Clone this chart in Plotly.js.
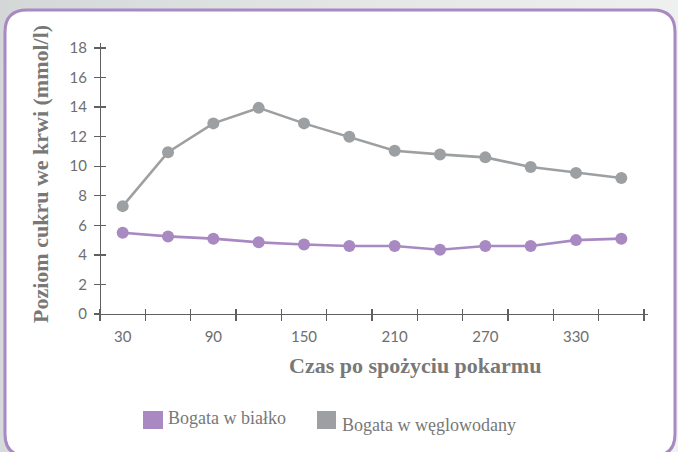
<!DOCTYPE html>
<html>
<head>
<meta charset="utf-8">
<script src="https://cdn.plot.ly/plotly-3.0.1.min.js"></script>
<style>
html,body{margin:0;padding:0;}
#chart{width:678px;height:452px;background:linear-gradient(100deg,#d3d7d7 0%,#e4e6e6 45%,#f1f2f2 100%);}
</style>
</head>
<body>
<div id="chart"></div>
<script>
// ---- data ----
const times = [30, 60, 90, 120, 150, 180, 210, 240, 270, 300, 330, 360];
const protein = [5.5, 5.25, 5.1, 4.85, 4.7, 4.6, 4.6, 4.35, 4.6, 4.6, 5.0, 5.1];
const carbs = [7.3, 10.95, 12.9, 13.95, 12.9, 12.0, 11.05, 10.8, 10.6, 9.95, 9.55, 9.2];
const seriesNames = ['Bogata w białko', 'Bogata w węglowodany'];
const xTickVals = [30, 90, 150, 210, 270, 330];
const xTickText = ['30', '90', '150', '210', '270', '330'];
const xBoundaries = [15, 45, 75, 105, 135, 165, 195, 225, 255, 285, 315, 345, 375];
const yTickVals = [0, 2, 4, 6, 8, 10, 12, 14, 16, 18];
const yTickText = ['0', '2', '4', '6', '8', '10', '12', '14', '16', '18'];
const xTitle = 'Czas po spożyciu pokarmu';
const yTitle = 'Poziom cukru we krwi (mmol/l)';

// ---- style ----
const W = 678, H = 452;
const px = x => x / W;
const py = y => (H - y) / H;
const purple = '#a889c2';
const gray = '#9da0a2';
const axisCol = '#606060';
const textCol = '#787878';
const tickFont = {family: 'Lato, "Open Sans", sans-serif', size: 15, color: '#6e6e6e'};
const serif = '"Liberation Serif", "DejaVu Serif", serif';

const xDom = [px(97), px(648)];
const yDom = [py(314), py(43)];
const xRange = [13.0, 377.65];
const yRange = [0, 18.34];

const traces = [
  {x: times, y: protein, name: seriesNames[0], type: 'scatter', mode: 'lines+markers',
   line: {color: purple, width: 2.6}, marker: {color: purple, size: 12}, cliponaxis: false},
  {x: times, y: carbs, name: seriesNames[1], type: 'scatter', mode: 'lines+markers',
   line: {color: gray, width: 2.6}, marker: {color: gray, size: 12}, cliponaxis: false},
  // empty helper trace so the overlaid tick-only axes are created (draws nothing)
  {x: [], y: [], xaxis: 'x2', yaxis: 'y2', type: 'scatter', mode: 'markers', hoverinfo: 'skip'}
];

function rr(x0, y0, x1, y1, r) {
  const X = v => px(v).toFixed(5), Y = v => py(v).toFixed(5);
  return `M${X(x0 + r)},${Y(y0)} L${X(x1 - r)},${Y(y0)} Q${X(x1)},${Y(y0)} ${X(x1)},${Y(y0 + r)} ` +
    `L${X(x1)},${Y(y1 - r)} Q${X(x1)},${Y(y1)} ${X(x1 - r)},${Y(y1)} L${X(x0 + r)},${Y(y1)} ` +
    `Q${X(x0)},${Y(y1)} ${X(x0)},${Y(y1 - r)} L${X(x0)},${Y(y0 + r)} Q${X(x0)},${Y(y0)} ${X(x0 + r)},${Y(y0)} Z`;
}

const layout = {
  width: W, height: H,
  margin: {l: 0, r: 0, t: 0, b: 0},
  paper_bgcolor: 'rgba(0,0,0,0)',
  plot_bgcolor: 'rgba(0,0,0,0)',
  showlegend: false,
  xaxis: {domain: xDom, range: xRange, anchor: 'y', tickmode: 'array', tickvals: xTickVals, ticktext: xTickText,
    ticks: '', showgrid: false, zeroline: false, showline: true, linecolor: axisCol, linewidth: 1.3,
    tickfont: tickFont, ticklabelstandoff: 9,
    minor: {tickmode: 'array', tickvals: xBoundaries, ticks: 'outside', ticklen: 6, tickwidth: 1.3, tickcolor: axisCol, showgrid: false}},
  xaxis2: {domain: xDom, range: xRange, anchor: 'y2', overlaying: 'x', tickmode: 'array', tickvals: xBoundaries,
    ticks: 'inside', ticklen: 5, tickwidth: 1.3, tickcolor: axisCol, showticklabels: false,
    showgrid: false, zeroline: false, showline: false},
  yaxis: {domain: yDom, range: yRange, anchor: 'free', position: px(100), tickmode: 'array',
    tickvals: yTickVals, ticktext: yTickText, ticks: 'outside', ticklen: 6, tickwidth: 1.3, tickcolor: axisCol,
    showgrid: false, zeroline: false, showline: true, linecolor: axisCol, linewidth: 1.3, tickfont: tickFont,
    ticklabelstandoff: 4},
  yaxis2: {domain: yDom, range: yRange, anchor: 'free', position: px(100), overlaying: 'y', tickmode: 'array',
    tickvals: yTickVals, ticks: 'inside', ticklen: 5, tickwidth: 1.3, tickcolor: axisCol, showticklabels: false,
    showgrid: false, zeroline: false, showline: false},
  shapes: [
    {type: 'path', xref: 'paper', yref: 'paper', layer: 'below', path: rr(5, 10, 675, 456, 22),
     fillcolor: '#ffffff', line: {color: purple, width: 3}},
    {type: 'rect', xref: 'paper', yref: 'paper', x0: px(143), x1: px(163), y0: py(429), y1: py(411),
     fillcolor: purple, line: {width: 0}},
    {type: 'rect', xref: 'paper', yref: 'paper', x0: px(317), x1: px(336), y0: py(429), y1: py(411),
     fillcolor: gray, line: {width: 0}}
  ],
  annotations: [
    {text: yTitle, xref: 'paper', yref: 'paper', x: px(40), y: py(174), xanchor: 'center', yanchor: 'middle',
     textangle: -90, showarrow: false, font: {family: serif, size: 22, color: textCol, weight: 'bold'}},
    {text: xTitle, xref: 'paper', yref: 'paper', x: px(415), y: py(365), xanchor: 'center', yanchor: 'middle',
     showarrow: false, font: {family: serif, size: 22, color: textCol, weight: 'bold'}},
    {text: seriesNames[0], xref: 'paper', yref: 'paper', x: px(166), y: py(418), xanchor: 'left', yanchor: 'middle',
     showarrow: false, font: {family: serif, size: 18, color: textCol}},
    {text: seriesNames[1], xref: 'paper', yref: 'paper', x: px(340), y: py(425), xanchor: 'left', yanchor: 'middle',
     showarrow: false, font: {family: serif, size: 18, color: textCol}}
  ]
};

Plotly.newPlot('chart', traces, layout, {displayModeBar: false, staticPlot: true});
</script>
</body>
</html>
